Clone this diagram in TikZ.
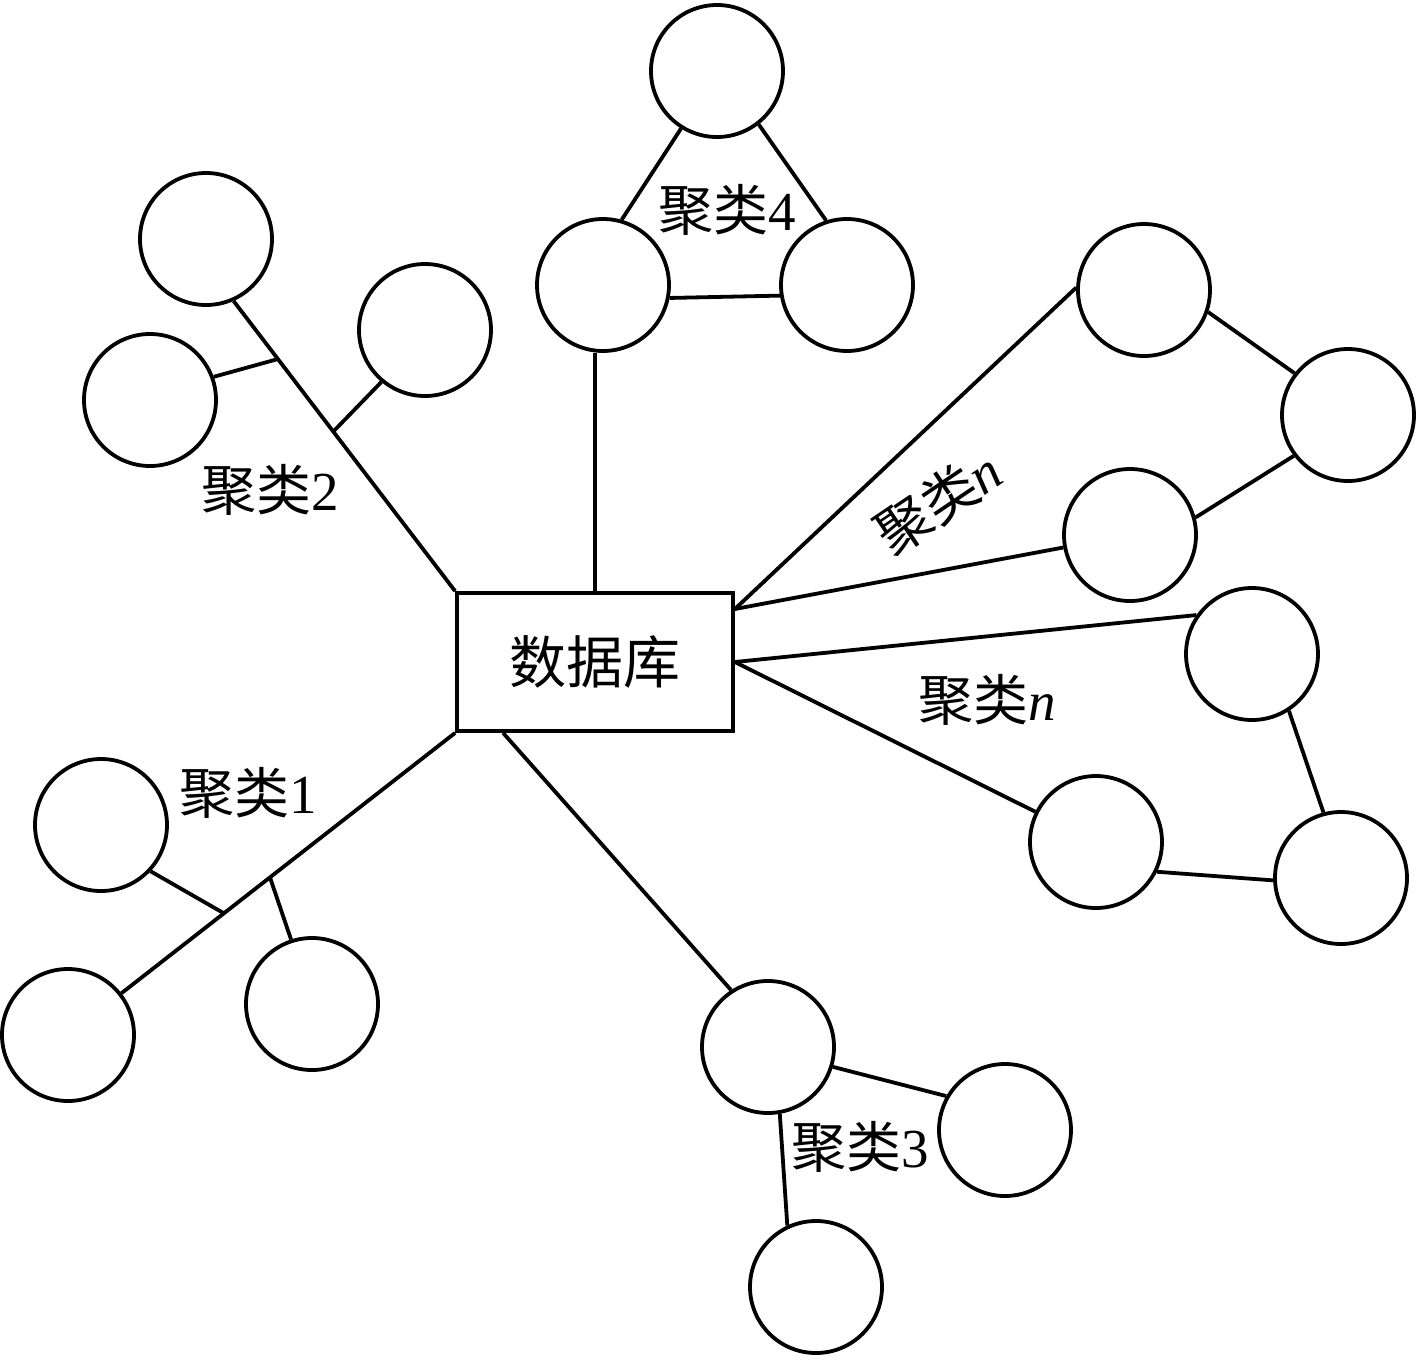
\documentclass[tikz,border=0pt]{standalone}
\usepackage{fontspec}
\setmainfont{Liberation Serif}
\newfontfamily\cjk{Noto Sans CJK SC}
\usetikzlibrary{calc}
\begin{document}
\begin{tikzpicture}[x=1pt,y=1pt,line width=3.8pt,
  cnode/.style={circle,draw,minimum size=132pt,inner sep=0pt},
  dbbox/.style={draw,minimum width=276pt,minimum height=138pt,inner sep=0pt,font=\fontsize{57}{62}\selectfont\cjk},
  lbl/.style={font=\fontsize{55}{60}\selectfont,inner sep=0pt}]
\useasboundingbox (0,0) rectangle (1417,-1361);
% central box
\node[dbbox] (db) at (595,-662) {数据库};
% cluster 4
\node[cnode] (c4t) at (717,-71) {};
\node[cnode] (c4l) at (603,-285) {};
\node[cnode] (c4r) at (847,-285) {};
% cluster 2
\node[cnode] (c2a) at (206,-239) {};
\node[cnode] (c2r) at (425,-330) {};
\node[cnode] (c2l) at (150,-400) {};
% cluster n (upper)
\node[cnode] (na) at (1144,-290) {};
\node[cnode] (nb) at (1348,-415) {};
\node[cnode] (nc) at (1130,-535) {};
% cluster n (lower)
\node[cnode] (ma) at (1252,-654) {};
\node[cnode] (mb) at (1096,-842) {};
\node[cnode] (mc) at (1341,-878) {};
% cluster 1
\node[cnode] (c1a) at (101,-825) {};
\node[cnode] (c1b) at (68,-1035) {};
\node[cnode] (c1c) at (312,-1004) {};
% cluster 3
\node[cnode] (c3a) at (768,-1047) {};
\node[cnode] (c3b) at (1005,-1130) {};
\node[cnode] (c3c) at (816,-1287) {};
% labels
\node[lbl] (l4) at (727,-210) {{\cjk 聚类}4};
\node[lbl] (l2) at (270,-490) {{\cjk 聚类}2};
\node[lbl] (l1) at (248,-793) {{\cjk 聚类}1};
\node[lbl] (l3) at (860,-1147) {{\cjk 聚类}3};
\node[lbl] (lnb) at (987,-700) {{\cjk 聚类}\textit{n}};
\node[lbl,rotate=34] (lna) at (938,-502) {{\cjk 聚类}\textit{n}};
% coordinates on the box
\coordinate (e1) at ($(db.east)+(0,53)$);
\coordinate (e2) at (db.east);
\coordinate (s3) at ($(db.south west)+(48,0)$);
% cluster 4 connectors
\draw (db.north) -- (db.north |- c4l.south);
\draw (c4t.-122) -- (c4l.74);
\draw (c4t.-52) -- (c4r.108);
\draw (c4l.-11) -- (c4r.189);
% cluster 2 connectors
\draw (db.north west) -- (c2a.-66);
\coordinate (j2a) at ($(c2a.-66)!0.2!(db.north west)$);
\coordinate (j2b) at ($(c2a.-66)!0.45!(db.north west)$);
\draw (j2a) -- (c2l.20);
\draw (j2b) -- (c2r.-130);
% cluster 1 connectors
\draw (db.south west) -- (c1b.38);
\coordinate (j1a) at ($(db.south west)!0.693!(c1b.38)$);
\coordinate (j1b) at ($(db.south west)!0.555!(c1b.38)$);
\draw (j1a) -- (c1a.-43);
\draw (j1b) -- (c1c.108);
% cluster 3 connectors
\draw (s3) -- (c3a.123);
\draw (c3a.-17) -- (c3b.150);
\draw (c3a.-80) -- (c3c.115);
% cluster n upper
\draw (e1) -- (na.178);
\draw (e1) -- (nc);
\draw (na.-19) -- (nb.142);
\draw (nb.217) -- (nc.15);
% cluster n lower
\draw (e2) -- (ma.145);
\draw (e2) -- (mb);
\draw (ma.-57) -- (mc.105);
\draw (mb.-26) -- (mc.182);
\end{tikzpicture}
\end{document}
